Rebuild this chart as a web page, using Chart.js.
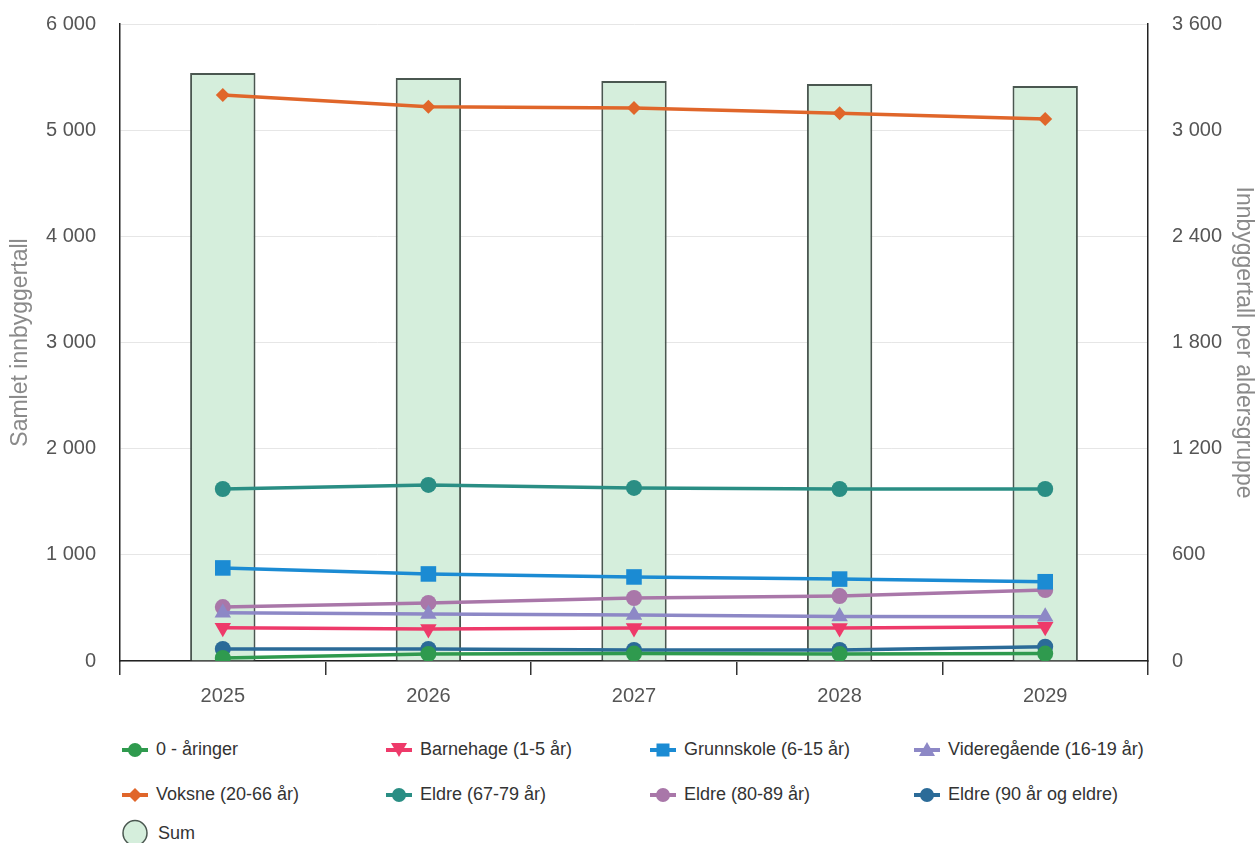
<!DOCTYPE html>
<html>
<head>
<meta charset="utf-8">
<script src="https://cdn.jsdelivr.net/npm/chart.js@4/dist/chart.umd.min.js"></script>
<style>
  html, body { margin:0; padding:0; background:#fff; overflow:hidden; }
  #wrap { position:relative; width:1257px; height:843px; font-family:"Liberation Sans", Arial, sans-serif; overflow:hidden; }
  #c { position:absolute; left:0; top:0; }
  #legend { position:absolute; left:122px; top:727px; width:1120px; }
  .row { display:flex; height:45px; align-items:center; }
  .row.last { height:32px; }
  .item { width:264px; display:flex; align-items:center; font-size:18px; color:#333; white-space:nowrap; }
  .item svg { margin-right:8px; flex:none; }
</style>
</head>
<body>
<div id="wrap">
  <canvas id="c" width="1257" height="720"></canvas>
  <div id="legend"></div>
</div>
<script>
const years = ['2025', '2026', '2027', '2028', '2029'];
const sumTotal = [5538, 5491, 5463, 5435, 5416];
const nullAringer = [17, 40, 42, 40, 42];
const barnehage = [188, 181, 186, 186, 194];
const grunnskole = [526, 492, 475, 463, 448];
const videregaende = [273, 265, 260, 252, 250];
const voksne = [3199, 3133, 3125, 3095, 3063];
const eldre6779 = [972, 995, 978, 972, 972];
const eldre8089 = [305, 328, 356, 367, 401];
const eldre90 = [68, 68, 62, 62, 81];
const leftTicks = [0, 1000, 2000, 3000, 4000, 5000, 6000];
const rightTicks = [0, 600, 1200, 1800, 2400, 3000, 3600];

function fmt(v) { return String(v).replace(/\B(?=(\d{3})+(?!\d))/g, ' '); }

function lineDs(label, data, color, style, rot, radius) {
  return {
    type: 'line', label, data, yAxisID: 'y1',
    borderColor: color, backgroundColor: color,
    borderWidth: 3.5, pointStyle: style, pointRotation: rot || 0,
    pointRadius: radius, pointBorderWidth: 0, pointHoverRadius: radius,
    tension: 0, order: 1
  };
}

const datasets = [
  lineDs('0 - åringer', nullAringer, '#2f9a4e', 'circle', 0, 8),
  lineDs('Barnehage (1-5 år)', barnehage, '#ee3a6a', 'triangle', 180, 9.5),
  lineDs('Grunnskole (6-15 år)', grunnskole, '#1b8bd3', 'rect', 0, 11),
  lineDs('Videregående (16-19 år)', videregaende, '#8d88c6', 'triangle', 0, 9.5),
  lineDs('Voksne (20-66 år)', voksne, '#e0662a', 'rectRot', 0, 7),
  lineDs('Eldre (67-79 år)', eldre6779, '#2a8e84', 'circle', 0, 8),
  lineDs('Eldre (80-89 år)', eldre8089, '#a977a9', 'circle', 0, 8),
  lineDs('Eldre (90 år og eldre)', eldre90, '#2b6b98', 'circle', 0, 8),
  {
    type: 'bar', label: 'Sum', data: sumTotal, yAxisID: 'y',
    backgroundColor: '#d5eedc', borderColor: '#4a5750', borderWidth: 2,
    barPercentage: 0.318, categoryPercentage: 1, order: 100
  }
];

const tickFont = { family: 'Liberation Sans', size: 20 };
const titleFont = { family: 'Liberation Sans', size: 23 };

const chart = new Chart(document.getElementById('c'), {
  data: { labels: years, datasets },
  options: {
    responsive: false, animation: false, devicePixelRatio: 1,
    layout: { padding: { top: 24, left: 0, right: 0, bottom: 0 } },
    plugins: { legend: { display: false }, tooltip: { enabled: false } },
    scales: {
      x: {
        offset: true,
        grid: { display: true, drawOnChartArea: false, drawTicks: true, tickLength: 14, color: '#333', lineWidth: 1.5, offset: true },
        border: { display: true, color: '#222', width: 1.5 },
        ticks: { color: '#555', font: tickFont, padding: 9 },
        afterFit(s) { s.height = 59; s.paddingLeft = 0; s.paddingRight = 0; }
      },
      y: {
        position: 'left', min: 0, max: 6000,
        afterBuildTicks(s) { s.ticks = leftTicks.map(v => ({ value: v })); },
        grid: { color: '#e6e6e6', lineWidth: 1, drawTicks: false },
        border: { display: true, color: '#222', width: 1.5 },
        ticks: { color: '#555', font: tickFont, padding: 24, callback: v => fmt(v) },
        title: { display: true, text: 'Samlet innbyggertall', color: '#8a8a8a', font: titleFont, padding: { top: 7, bottom: 0 } },
        afterFit(s) { s.width = 120; s.paddingTop = 0; s.paddingBottom = 0; }
      },
      y1: {
        position: 'right', min: 0, max: 3600,
        afterBuildTicks(s) { s.ticks = rightTicks.map(v => ({ value: v })); },
        grid: { drawOnChartArea: false, drawTicks: false },
        border: { display: true, color: '#222', width: 1.5 },
        ticks: { color: '#555', font: tickFont, padding: 24, callback: v => fmt(v) },
        title: { display: true, text: 'Innbyggertall per aldersgruppe', color: '#8a8a8a', font: titleFont, padding: { top: 0, bottom: 0 } },
        afterFit(s) { s.width = 109; s.paddingTop = 0; s.paddingBottom = 0; }
      }
    }
  }
});

function markerSvg(ds) {
  const c = ds.borderColor;
  if (ds.type === 'bar') {
    return '<svg width="28" height="28" viewBox="0 0 28 28"><ellipse cx="13" cy="14" rx="12" ry="12.5" fill="' + ds.backgroundColor + '" stroke="' + ds.borderColor + '" stroke-width="1.5"/></svg>';
  }
  let m = '';
  if (ds.pointStyle === 'circle') m = '<circle cx="13" cy="10" r="7" fill="' + c + '"/>';
  else if (ds.pointStyle === 'rect') m = '<rect x="6.5" y="3.5" width="13" height="13" fill="' + c + '"/>';
  else if (ds.pointStyle === 'rectRot') m = '<polygon points="13,3 20,10 13,17 6,10" fill="' + c + '"/>';
  else if (ds.pointStyle === 'triangle' && ds.pointRotation === 180) m = '<polygon points="5,3 21,3 13,17" fill="' + c + '"/>';
  else if (ds.pointStyle === 'triangle') m = '<polygon points="13,2 21,16 5,16" fill="' + c + '"/>';
  return '<svg width="26" height="20" viewBox="0 0 26 20"><line x1="0" y1="10" x2="26" y2="10" stroke="' + c + '" stroke-width="4"/>' + m + '</svg>';
}

const leg = document.getElementById('legend');
const dss = chart.data.datasets;
let html = '';
for (let i = 0; i < dss.length; i += 4) {
  const last = i + 4 >= dss.length;
  html += '<div class="row' + (last ? ' last' : '') + '">';
  dss.slice(i, i + 4).forEach(ds => {
    html += '<div class="item">' + markerSvg(ds) + '<span>' + ds.label + '</span></div>';
  });
  html += '</div>';
}
leg.innerHTML = html;
</script>
</body>
</html>
